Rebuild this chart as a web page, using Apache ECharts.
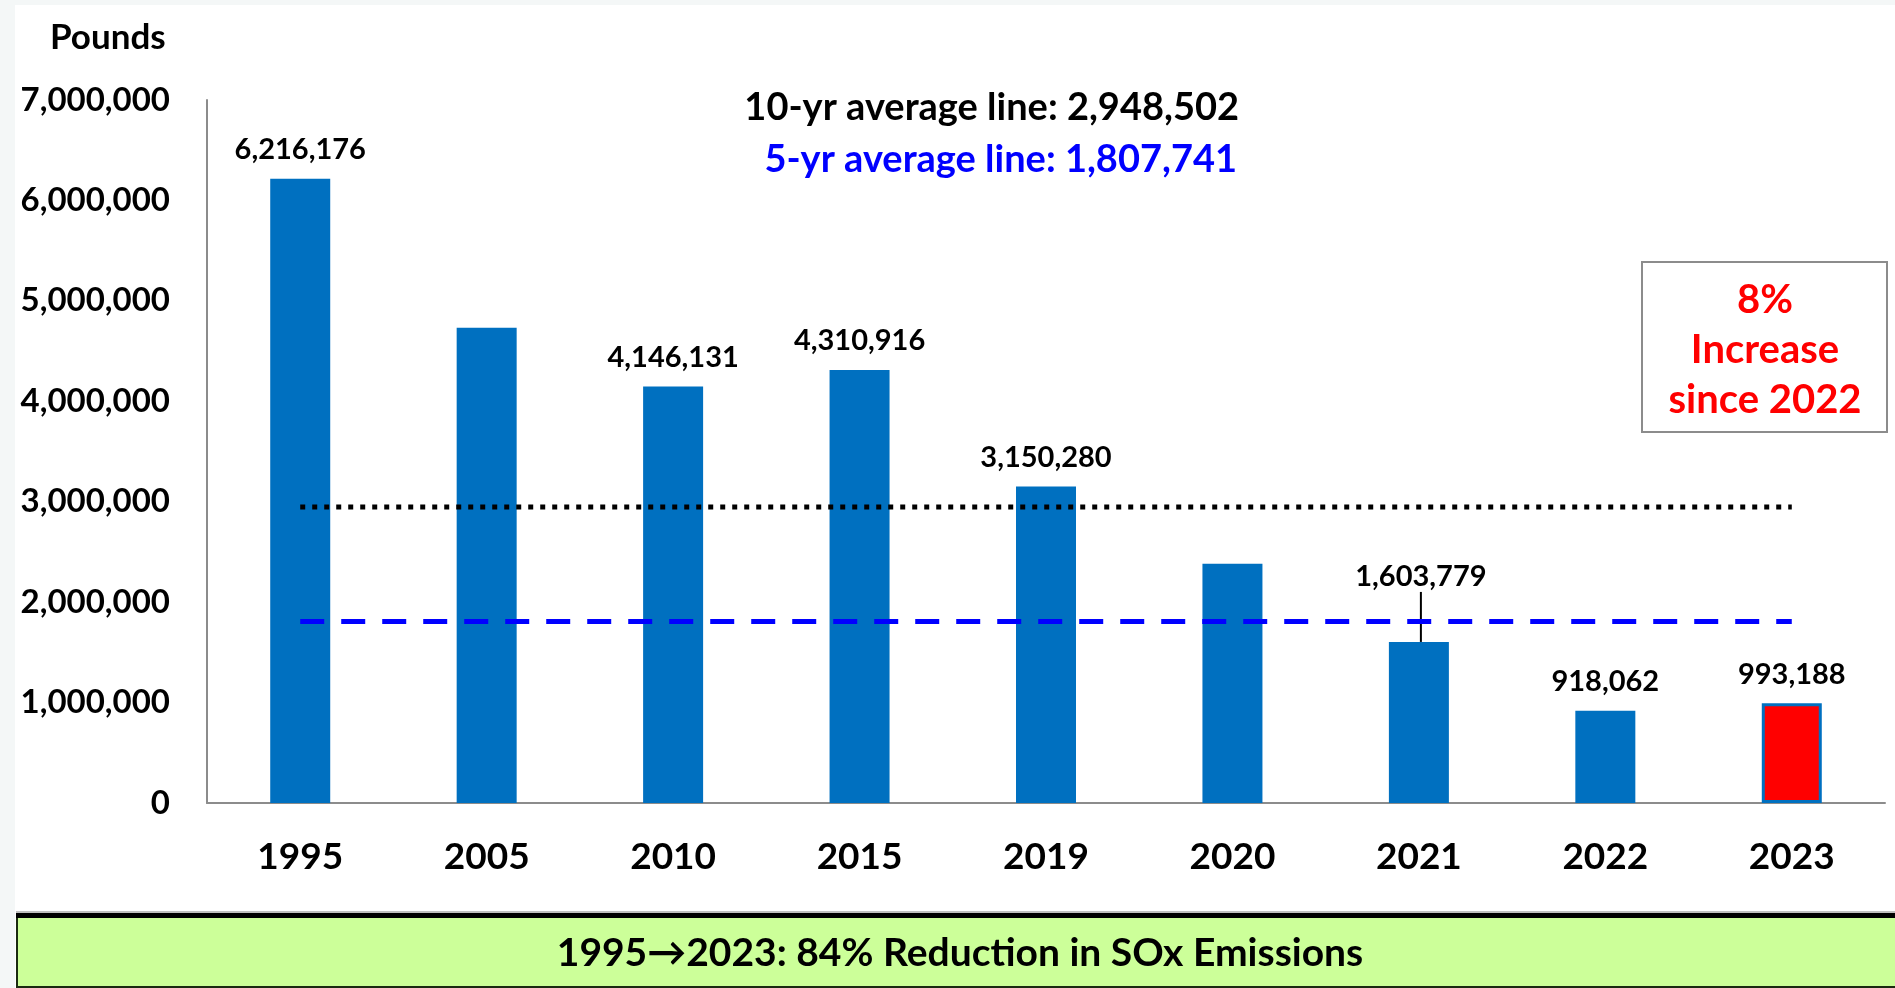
<!DOCTYPE html>
<html>
<head>
<meta charset="utf-8">
<title>SOx Emissions</title>
<script src="https://cdn.jsdelivr.net/npm/echarts@6/dist/echarts.min.js"></script>
<style>
  html, body { margin: 0; padding: 0; background: #ffffff; }
  #chart { width: 1895px; height: 988px; }
</style>
</head>
<body>
<div id="chart"></div>
<script>
// Annual SOx emissions, in pounds
const categories = ['1995', '2005', '2010', '2015', '2019', '2020', '2021', '2022', '2023'];
const emissions = [6216176, 4733000, 4146131, 4310916, 3150280, 2383000, 1603779, 918062, 993188];
const showValue = [true, false, true, true, true, false, true, true, true];
const tenYearAverage = 2948502;
const fiveYearAverage = 1807741;
const yAxisMin = 0;
const yAxisMax = 7000000;
const yAxisStep = 1000000;

const FONT = 'Lato, "Open Sans", sans-serif';
const BLUE = '#0070C0';
const fmt = v => Math.round(v).toLocaleString('en-US');

const first = emissions[0];
const last = emissions[emissions.length - 1];
const prev = emissions[emissions.length - 2];
const reductionPct = Math.round((first - last) / first * 100);
const increasePct = Math.round((last - prev) / prev * 100);

const barData = emissions.map((v, i) => {
  const item = {
    value: v,
    label: { show: showValue[i] }
  };
  if (i === emissions.length - 1) {
    item.itemStyle = { color: '#FF0000', borderColor: BLUE, borderWidth: 3 };
  }
  if (i === 6) {
    item.labelLine = { show: true, lineStyle: { color: '#000000', width: 2 } };
  }
  return item;
});

const chart = echarts.init(document.getElementById('chart'), null, { renderer: 'canvas' });

chart.setOption({
  backgroundColor: '#ffffff',
  animation: false,
  title: [
    {
      text: '10-yr average line: ' + fmt(tenYearAverage),
      right: 651, top: 81,
      textStyle: { fontFamily: FONT, fontWeight: 'bold', fontSize: 38, color: '#000000', lineHeight: 44 }
    },
    {
      text: '5-yr average line: ' + fmt(fiveYearAverage),
      right: 653, top: 133,
      textStyle: { fontFamily: FONT, fontWeight: 'bold', fontSize: 38, color: '#0000FF', lineHeight: 44 }
    }
  ],
  grid: { left: 207, right: 10, top: 100, bottom: 185, containLabel: false },
  xAxis: {
    type: 'category',
    data: categories,
    axisLine: { show: true, lineStyle: { color: '#8C8C8C', width: 2 } },
    axisTick: { show: false },
    axisLabel: { margin: 36, fontFamily: FONT, fontWeight: 'bold', fontSize: 37, color: '#000000' }
  },
  yAxis: {
    type: 'value',
    min: yAxisMin, max: yAxisMax, interval: yAxisStep,
    splitLine: { show: false },
    axisLine: { show: true, lineStyle: { color: '#8C8C8C', width: 2 } },
    axisTick: { show: false },
    axisLabel: {
      margin: 37, fontFamily: FONT, fontWeight: 'bold', fontSize: 33, color: '#000000',
      formatter: v => fmt(v)
    }
  },
  series: [
    {
      type: 'bar',
      data: barData,
      barWidth: 60,
      itemStyle: { color: BLUE },
      label: {
        position: 'top', distance: 14,
        fontFamily: FONT, fontWeight: 'bold', fontSize: 29, color: '#000000', lineHeight: 30,
        formatter: p => fmt(p.value)
      },
      labelLine: { show: false },
      labelLayout: p => (p.dataIndex === 6 ? { dy: -36, dx: 2 } : {}),
      z: 2
    },
    {
      type: 'line',
      data: categories.map(() => tenYearAverage),
      symbol: 'none',
      lineStyle: { color: '#000000', width: 5, type: [5, 7] },
      z: 3
    },
    {
      type: 'line',
      data: categories.map(() => fiveYearAverage),
      symbol: 'none',
      lineStyle: { color: '#0000FF', width: 5, type: [24, 17] },
      z: 3
    }
  ],
  graphic: [
    // pale margin strips round the panel
    { type: 'rect', shape: { x: 0, y: 0, width: 15, height: 988 }, style: { fill: '#F4F7F7' }, silent: true },
    { type: 'rect', shape: { x: 0, y: 0, width: 1895, height: 5 }, style: { fill: '#F4F7F7' }, silent: true },
    // axis unit
    {
      type: 'text', left: 50, top: 20,
      style: { text: 'Pounds', fontFamily: FONT, fontWeight: 'bold', fontSize: 35, fill: '#000000' }
    },
    // change since previous year
    {
      type: 'rect',
      shape: { x: 1642, y: 262, width: 245, height: 170 },
      style: { fill: '#ffffff', stroke: '#8C8C8C', lineWidth: 2 }
    },
    {
      type: 'text', x: 1765, y: 350,
      style: {
        text: increasePct + '%\nIncrease\nsince 2022',
        fontFamily: FONT, fontWeight: 'bold', fontSize: 40, lineHeight: 50,
        fill: '#FF0000', align: 'center', verticalAlign: 'middle'
      }
    },
    // summary banner
    { type: 'rect', shape: { x: 16, y: 911, width: 1885, height: 2 }, style: { fill: '#BFBFBF' } },
    {
      type: 'rect',
      shape: { x: 17, y: 916, width: 1885, height: 71 },
      style: { fill: '#CCFF99', stroke: '#1A2A10', lineWidth: 2 }
    },
    { type: 'rect', shape: { x: 16, y: 913, width: 1885, height: 5 }, style: { fill: '#000000' } },
    {
      type: 'text', x: 960, y: 953,
      style: {
        text: categories[0] + '\u2192' + categories[categories.length - 1] + ': ' + reductionPct + '% Reduction in SOx Emissions',
        fontFamily: FONT, fontWeight: 'bold', fontSize: 39, fill: '#000000',
        align: 'center', verticalAlign: 'middle'
      }
    }
  ]
});
</script>
</body>
</html>
